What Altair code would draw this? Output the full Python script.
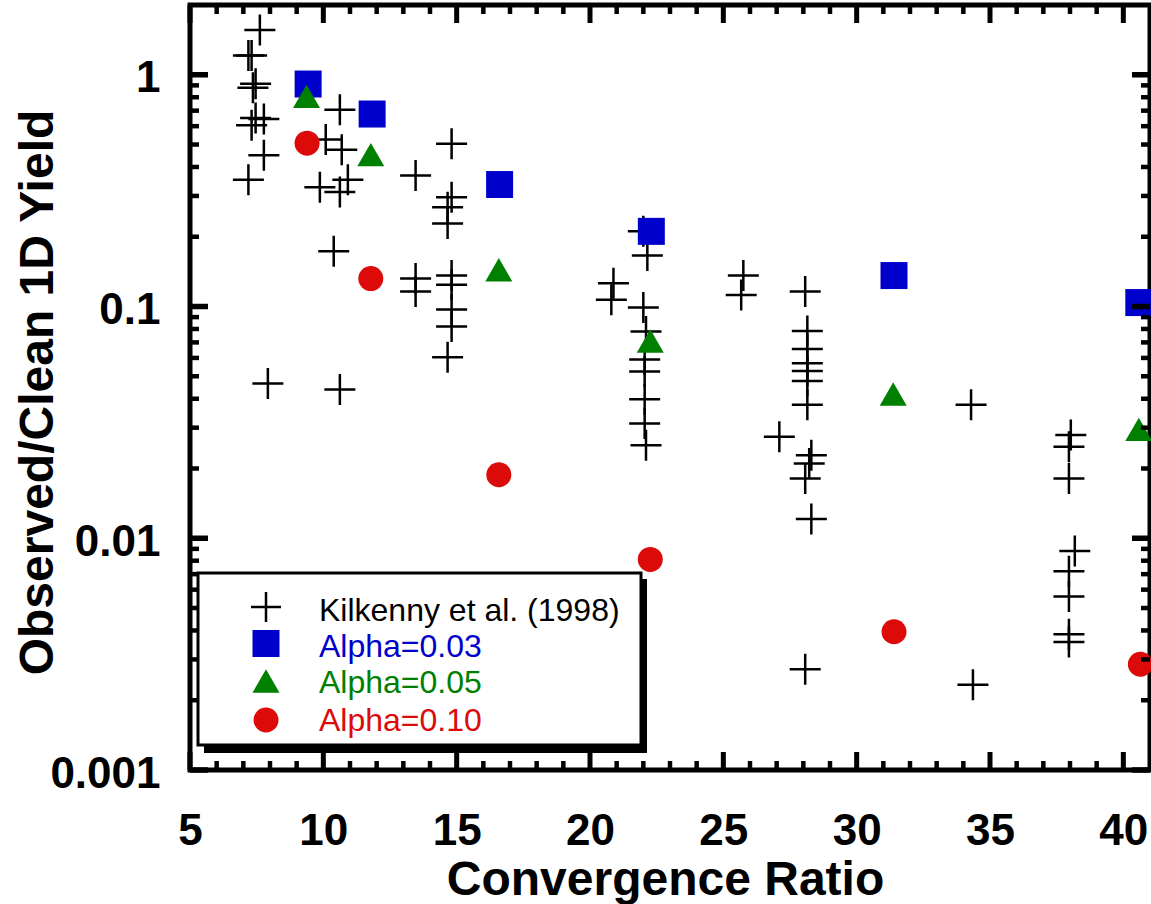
import altair as alt
import pandas as pd

# ---------------- data ----------------
kil_x = [7.62, 7.19, 7.31, 7.46, 7.36, 7.46, 7.77, 7.31, 7.77, 7.19,
         10.62, 10.09, 10.69, 9.87, 10.92, 10.62, 14.81, 13.46, 14.81, 14.66,
         14.66, 10.39, 13.46, 13.46, 14.81, 14.81, 14.81, 14.81, 14.66, 7.92,
         10.62, 20.88, 20.80, 22.00, 22.15, 22.00, 22.10, 22.05, 22.05, 22.05,
         22.05, 22.10, 25.75, 25.67, 28.07, 28.15, 28.15, 28.15, 28.15, 28.15,
         28.15, 27.10, 28.30, 28.22, 28.07, 28.30, 34.29, 38.03, 37.96, 37.96,
         38.18, 37.96, 37.96, 37.96, 37.96, 28.07, 34.36]
kil_y = [1.56, 1.21, 1.21, 0.915, 0.88, 0.65, 0.644, 0.605, 0.45, 0.352,
         0.707, 0.525, 0.475, 0.327, 0.352, 0.312, 0.504, 0.368, 0.296, 0.268,
         0.228, 0.173, 0.132, 0.116, 0.136, 0.124, 0.097, 0.082, 0.0604, 0.0465,
         0.0438, 0.126, 0.107, 0.211, 0.166, 0.099, 0.078, 0.059, 0.0524, 0.0398,
         0.0313, 0.0252, 0.136, 0.112, 0.116, 0.0784, 0.0655, 0.0569, 0.0527, 0.0477,
         0.0377, 0.0274, 0.0228, 0.021, 0.0181, 0.0121, 0.0377, 0.0279, 0.0248, 0.0181,
         0.0088, 0.0072, 0.0056, 0.00385, 0.00357, 0.00272, 0.00233]

a03_x = [9.43, 11.83, 16.61, 22.30, 31.40, 40.58]
a03_y = [0.912, 0.677, 0.336, 0.211, 0.136, 0.104]
a05_x = [9.37, 11.78, 16.58, 22.26, 31.37, 40.58]
a05_y = [0.807, 0.452, 0.144, 0.071, 0.0419, 0.0295]
a10_x = [9.39, 11.78, 16.58, 22.26, 31.40, 40.64]
a10_y = [0.507, 0.132, 0.0188, 0.0081, 0.00395, 0.00286]

series_names = ["Kilkenny et al. (1998)", "Alpha=0.03", "Alpha=0.05", "Alpha=0.10"]
series_colors = ["#000000", "#0000cc", "#008000", "#dd0a0a"]
cross_path = "M-1,0L1,0M0,-1L0,1"
series_shapes = [cross_path, "square", "triangle-up", "circle"]

x_major = [5, 10, 15, 20, 25, 30, 35, 40]
x_minor = [v for v in range(6, 41) if v % 5 != 0]
y_major = [0.001, 0.01, 0.1, 1]
y_minor = [k * d for d in [0.001, 0.01, 0.1] for k in range(2, 10)]

# ---------------- tables ----------------
frames = []
for name, xs, ys in zip(series_names, [kil_x, a03_x, a05_x, a10_x], [kil_y, a03_y, a05_y, a10_y]):
    frames.append(pd.DataFrame({"x": xs, "y": ys, "series": name}))
df = pd.concat(frames, ignore_index=True)

W, H = 960, 765
FONT = "Liberation Sans"

xscale = alt.Scale(domain=[5, 41], nice=False, zero=False)
yscale = alt.Scale(type="log", domain=[0.001, 2], nice=False)

color = alt.Color("series:N", scale=alt.Scale(domain=series_names, range=series_colors), legend=None)
shape = alt.Shape("series:N", scale=alt.Scale(domain=series_names, range=series_shapes), legend=None)

xaxis = alt.Axis(
    values=x_major, format="d", ticks=False, tickSize=0, domain=False, grid=False,
    labelFont=FONT, labelFontSize=44, labelFontWeight="bold", labelColor="black",
    labelPadding=39, labelFlush=False,
    title="Convergence Ratio", titleFont=FONT, titleFontSize=48, titleFontWeight="bold",
    titleColor="black", titleX=475, titleY=124, titleAlign="center", titleBaseline="alphabetic",
)
yaxis = alt.Axis(
    values=y_major, format="~g", ticks=False, tickSize=0, domain=False, grid=False,
    labelFont=FONT, labelFontSize=44, labelFontWeight="bold", labelColor="black",
    labelPadding=30, labelFlush=False, labelOffset=4, labelOverlap=False,
    title="Observed/Clean 1D Yield", titleFont=FONT, titleFontSize=48, titleFontWeight="bold",
    titleColor="black", titleAngle=270, titleX=-138, titleY=387, titleAlign="center",
    titleBaseline="alphabetic",
)

base = alt.Chart(df).encode(
    x=alt.X("x:Q", scale=xscale, axis=xaxis),
    y=alt.Y("y:Q", scale=yscale, axis=yaxis),
    color=color,
    shape=shape,
)

crosses = base.transform_filter(alt.datum.series == series_names[0]).mark_point(
    filled=False, strokeWidth=2.5, size=961, opacity=1)
squares = base.transform_filter(alt.datum.series == series_names[1]).mark_point(
    filled=True, size=729, opacity=1)
triangles = base.transform_filter(alt.datum.series == series_names[2]).mark_point(
    filled=True, size=729, opacity=1)
circles = base.transform_filter(alt.datum.series == series_names[3]).mark_point(
    filled=True, size=625, opacity=1)

# ---------------- inward ticks on all four sides ----------------
def xticks(values, length, width):
    d = pd.DataFrame({"x": values})
    top = alt.Chart(d).mark_rule(color="black", strokeWidth=width).encode(
        x=alt.X("x:Q", scale=xscale, axis=xaxis), y=alt.value(0), y2=alt.value(length))
    bot = alt.Chart(d).mark_rule(color="black", strokeWidth=width).encode(
        x=alt.X("x:Q", scale=xscale, axis=xaxis), y=alt.value(H), y2=alt.value(H - length))
    return [top, bot]

def yticks(values, length, width):
    d = pd.DataFrame({"y": values})
    left = alt.Chart(d).mark_rule(color="black", strokeWidth=width).encode(
        y=alt.Y("y:Q", scale=yscale, axis=yaxis), x=alt.value(0), x2=alt.value(length))
    right = alt.Chart(d).mark_rule(color="black", strokeWidth=width).encode(
        y=alt.Y("y:Q", scale=yscale, axis=yaxis), x=alt.value(W), x2=alt.value(W - length))
    return [left, right]

tick_layers = (xticks(x_major, 18, 5) + xticks(x_minor, 9, 4.5)
               + yticks(y_major, 18, 5.5) + yticks(y_minor, 9, 4.5))

# ---------------- legend box (drawn as guide marks) ----------------
one = pd.DataFrame({"a": [0]})
shadow = alt.Chart(one).mark_rect(color="black").encode(
    x=alt.value(14), x2=alt.value(457), y=alt.value(574), y2=alt.value(748))
box = alt.Chart(one).mark_rect(fill="white", stroke="black", strokeWidth=3).encode(
    x=alt.value(8), x2=alt.value(451), y=alt.value(568), y2=alt.value(740))

sym_y = [602, 638.5, 676, 715]
txt_y = [616, 652, 688, 726]
sym_size = [900, 729, 729, 625]
legend_layers = []
for i, name in enumerate(series_names):
    if i == 0:
        sym = alt.Chart(one).mark_point(shape=cross_path, filled=False, strokeWidth=2.5,
                                        size=sym_size[i], color=series_colors[i], opacity=1)
    else:
        sym = alt.Chart(one).mark_point(shape=series_shapes[i], filled=True,
                                        size=sym_size[i], color=series_colors[i], opacity=1)
    legend_layers.append(sym.encode(x=alt.value(76), y=alt.value(sym_y[i])))
    legend_layers.append(
        alt.Chart(one).mark_text(text=name, align="left", baseline="alphabetic", font=FONT,
                                 fontSize=32, color=series_colors[i]).encode(
            x=alt.value(129), y=alt.value(txt_y[i])))

chart = alt.layer(
    crosses, squares, triangles, circles, *tick_layers, shadow, box, *legend_layers
).properties(
    width=W, height=H,
    background="white",
    padding={"left": 190, "top": 5, "right": 1, "bottom": 134},
    autosize=alt.AutoSizeParams(type="none"),
).configure_view(
    stroke="black", strokeWidth=5, fill="white"
)

chart.save("out.html", embed_options={"renderer": "svg", "actions": False})
